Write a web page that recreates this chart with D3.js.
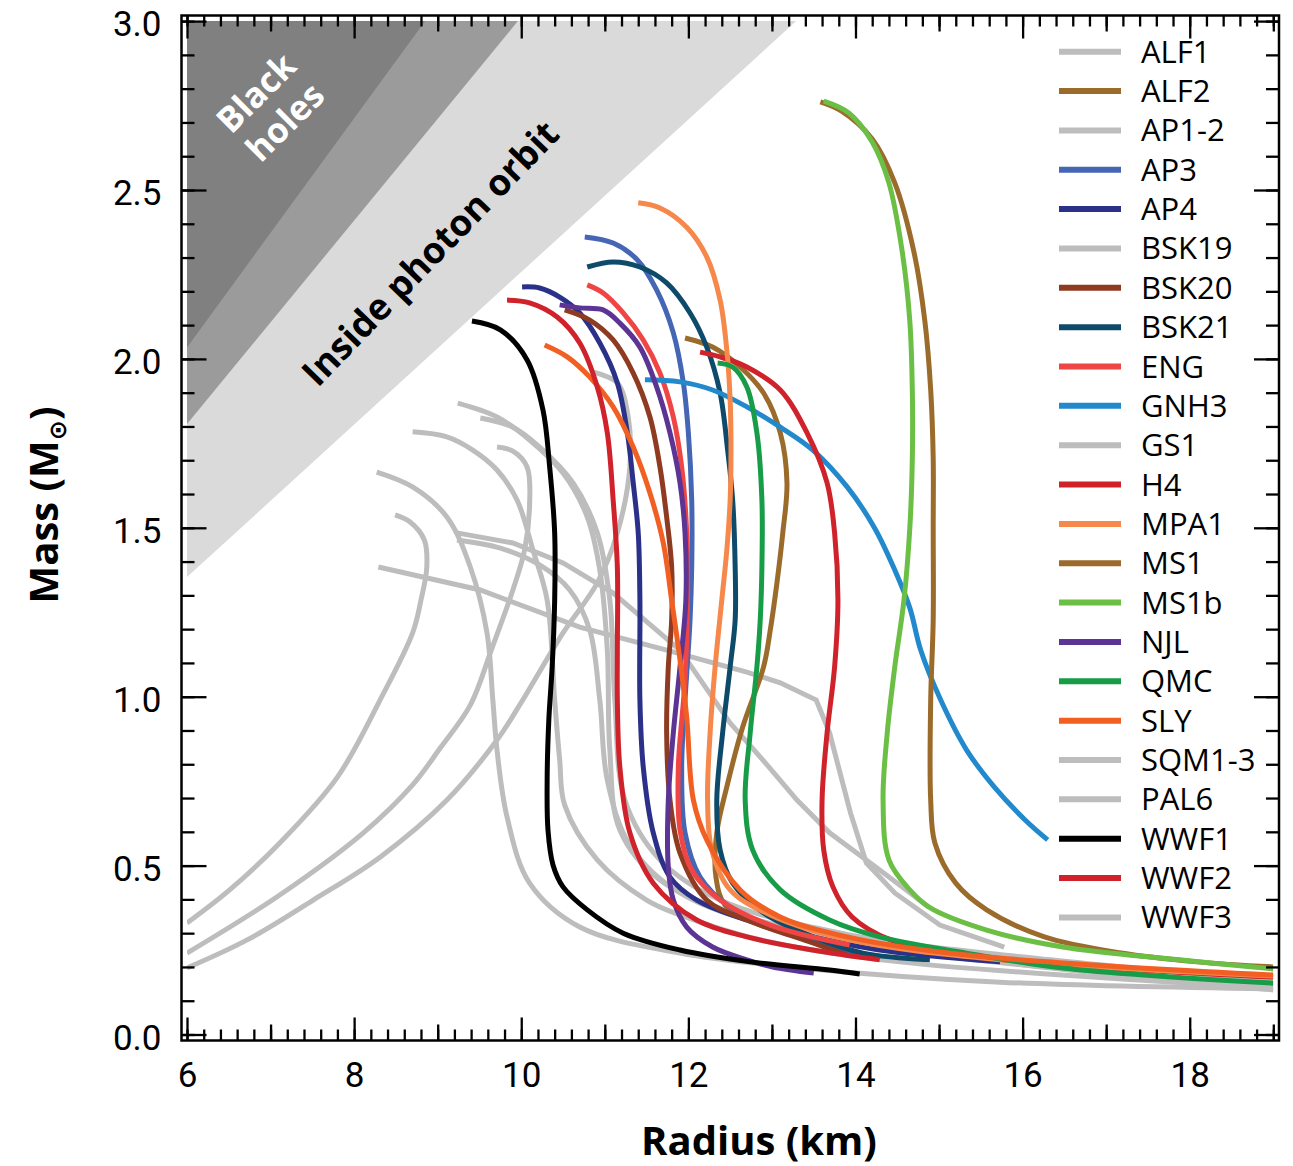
<!DOCTYPE html>
<html><head><meta charset="utf-8">
<script src="https://cdn.jsdelivr.net/npm/d3@7"></script>
<style>body{margin:0;background:#fff}</style>
</head><body>
<svg id="chart" width="1293" height="1166"></svg>
<script>
// ---------- data: [radius km, mass Msun] ----------
const ALF1 = [[8.29,1.384],[9.51,1.316],[10.70,1.206],[11.74,1.138],[12.70,1.073],[13.10,1.041],[13.53,0.990],[13.69,0.893],[13.94,0.656],[14.13,0.508],[14.47,0.419],[15.01,0.324],[15.78,0.259]];
const ALF2 = [[11.96,2.062],[12.29,2.035],[12.62,1.976],[12.90,1.899],[13.10,1.781],[13.18,1.633],[13.13,1.485],[13.06,1.337],[12.98,1.197],[12.90,1.088],[12.65,0.910],[12.46,0.733],[12.34,0.597],[12.33,0.466],[12.44,0.383],[12.86,0.324],[13.93,0.265]];
const AP1 = [[8.27,1.665],[8.70,1.621],[9.11,1.532],[9.39,1.384],[9.59,1.189],[9.66,0.990],[9.71,0.842],[9.83,0.644],[10.10,0.448],[10.70,0.318],[11.90,0.241],[13.34,0.197],[15.73,0.155],[19.0,0.135]];
const AP2 = [[8.70,1.784],[9.11,1.769],[9.42,1.730],[9.71,1.671],[9.95,1.582],[10.14,1.434],[10.31,1.286],[10.40,0.990],[10.46,0.813],[10.52,0.679],[10.91,0.517],[11.50,0.398],[11.90,0.354],[12.86,0.280],[14.53,0.215],[19.0,0.138]];
const AP3 = [[10.76,2.361],[11.10,2.343],[11.39,2.293],[11.62,2.204],[11.82,2.077],[11.94,1.929],[12.00,1.781],[12.04,1.582],[12.04,1.384],[12.02,1.227],[11.96,0.990],[11.92,0.792],[11.96,0.597],[12.14,0.466],[12.50,0.377],[13.10,0.309],[13.69,0.259],[14.29,0.229]];
const AP4 = [[10.01,2.213],[10.22,2.210],[10.46,2.183],[10.70,2.136],[10.94,2.047],[11.15,1.929],[11.27,1.781],[11.34,1.633],[11.40,1.485],[11.42,1.286],[11.42,0.990],[11.46,0.792],[11.58,0.597],[11.78,0.466],[12.10,0.398],[12.70,0.339],[13.49,0.289],[14.29,0.250],[15.73,0.215]];
const BSK19 = [[9.24,1.869],[9.71,1.828],[10.10,1.760],[10.50,1.662],[10.79,1.532],[10.94,1.375],[11.03,1.138],[11.06,0.842],[11.18,0.605],[11.66,0.457],[12.62,0.354],[14.53,0.250],[16.93,0.185],[19.0,0.147]];
const BSK20 = [[10.52,2.145],[10.82,2.115],[11.10,2.056],[11.34,1.958],[11.54,1.828],[11.66,1.680],[11.74,1.532],[11.80,1.384],[11.80,1.227],[11.76,1.088],[11.74,0.893],[11.78,0.694],[11.90,0.537],[12.22,0.398],[12.70,0.339],[13.49,0.271],[13.90,0.235]];
const BSK21 = [[10.79,2.272],[11.10,2.287],[11.42,2.272],[11.74,2.225],[12.02,2.136],[12.22,2.035],[12.38,1.899],[12.47,1.730],[12.53,1.582],[12.56,1.384],[12.56,1.227],[12.50,1.088],[12.41,0.893],[12.34,0.694],[12.38,0.546],[12.53,0.448],[12.90,0.360],[13.49,0.289],[14.09,0.241],[14.89,0.221]];
const ENG = [[10.79,2.219],[10.98,2.195],[11.22,2.136],[11.46,2.056],[11.66,1.958],[11.82,1.828],[11.92,1.680],[11.98,1.485],[11.99,1.286],[11.96,1.049],[11.88,0.792],[11.90,0.605],[12.04,0.487],[12.38,0.398],[12.98,0.324],[13.93,0.265]];
const GNH3 = [[11.48,1.938],[11.90,1.932],[12.29,1.908],[12.70,1.858],[13.10,1.798],[13.49,1.730],[13.90,1.621],[14.23,1.499],[14.47,1.375],[14.65,1.263],[14.78,1.138],[15.02,0.990],[15.33,0.842],[15.66,0.733],[16.03,0.635],[16.30,0.576]];
const GS1 = [[9.23,1.485],[9.90,1.455],[10.50,1.396],[11.10,1.307],[11.90,1.138],[12.50,0.922],[12.89,0.813],[13.30,0.694],[13.69,0.597],[14.29,0.487],[14.88,0.377]];
const H4 = [[12.14,2.020],[12.38,2.006],[12.70,1.976],[13.10,1.908],[13.42,1.781],[13.66,1.633],[13.75,1.485],[13.79,1.286],[13.75,1.088],[13.66,0.893],[13.60,0.694],[13.62,0.546],[13.73,0.437],[13.96,0.348],[14.42,0.280],[15.11,0.241],[16.48,0.206],[19.0,0.170]];
const MPA1 = [[11.40,2.462],[11.66,2.447],[11.98,2.390],[12.22,2.302],[12.38,2.174],[12.46,2.026],[12.50,1.878],[12.51,1.730],[12.50,1.582],[12.46,1.434],[12.40,1.286],[12.32,1.088],[12.26,0.893],[12.23,0.694],[12.28,0.546],[12.50,0.428],[12.98,0.354],[13.93,0.280],[15.73,0.221],[19.0,0.173]];
const MS1 = [[13.58,2.761],[13.83,2.734],[14.20,2.651],[14.47,2.521],[14.70,2.316],[14.83,2.112],[14.90,1.908],[14.93,1.704],[14.93,1.499],[14.93,1.227],[14.90,0.990],[14.90,0.694],[14.95,0.567],[15.20,0.448],[15.57,0.369],[16.26,0.289],[17.18,0.241],[18.09,0.215],[19.0,0.200]];
const MS1b = [[13.62,2.763],[13.92,2.728],[14.20,2.642],[14.40,2.521],[14.56,2.316],[14.65,2.112],[14.68,1.908],[14.68,1.704],[14.65,1.499],[14.58,1.286],[14.47,1.088],[14.38,0.893],[14.33,0.694],[14.40,0.517],[14.65,0.428],[14.88,0.377],[15.57,0.309],[16.48,0.259],[17.87,0.221],[19.0,0.194]];
const NJL = [[10.46,2.160],[10.70,2.151],[10.98,2.145],[11.18,2.106],[11.42,2.035],[11.62,1.917],[11.78,1.781],[11.90,1.633],[11.96,1.485],[11.97,1.286],[11.90,1.088],[11.82,0.893],[11.76,0.694],[11.76,0.496],[11.82,0.398],[11.98,0.318],[12.29,0.259],[12.70,0.221],[13.01,0.200],[13.50,0.182]];
const QMC = [[12.35,1.988],[12.53,1.976],[12.70,1.917],[12.82,1.781],[12.88,1.582],[12.88,1.384],[12.86,1.227],[12.82,1.088],[12.74,0.893],[12.68,0.694],[12.77,0.546],[13.10,0.428],[13.69,0.339],[14.29,0.289],[15.25,0.244],[16.48,0.197],[19.0,0.152]];
const SLY = [[10.28,2.041],[10.55,2.006],[10.82,1.946],[11.10,1.858],[11.34,1.739],[11.54,1.603],[11.70,1.455],[11.80,1.286],[11.90,1.109],[11.98,0.940],[12.06,0.694],[12.22,0.576],[12.62,0.428],[13.10,0.348],[13.90,0.289],[15.11,0.241],[16.48,0.212],[19.0,0.176]];
const SQM1 = [[8.49,1.538],[8.67,1.517],[8.84,1.464],[8.87,1.384],[8.80,1.286],[8.70,1.189],[8.31,0.990],[7.80,0.762],[7.11,0.567],[6.51,0.428],[6.0,0.330]];
const SQM2 = [[9.71,1.739],[9.90,1.727],[10.07,1.680],[10.10,1.568],[10.04,1.434],[9.90,1.316],[9.65,1.144],[9.39,0.975],[9.03,0.848],[8.70,0.739],[8.11,0.597],[7.11,0.413],[6.0,0.241]];
const SQM3 = [[10.86,1.961],[11.15,1.929],[11.28,1.828],[11.30,1.680],[11.15,1.485],[10.91,1.337],[10.50,1.189],[9.98,0.975],[9.71,0.872],[9.11,0.694],[8.31,0.525],[7.51,0.398],[6.72,0.280],[6.0,0.197]];
const PAL6 = [[9.23,1.464],[9.75,1.440],[10.22,1.390],[10.58,1.316],[10.82,1.197],[10.94,0.990],[11.03,0.753],[11.30,0.561],[11.90,0.419],[13.10,0.315],[15.73,0.215],[19.0,0.132]];
const WWF1 = [[9.41,2.112],[9.75,2.086],[10.07,1.997],[10.26,1.849],[10.34,1.680],[10.40,1.485],[10.40,1.286],[10.37,1.088],[10.33,0.931],[10.31,0.753],[10.32,0.605],[10.38,0.502],[10.50,0.437],[10.79,0.369],[11.22,0.300],[11.90,0.250],[12.74,0.215],[13.69,0.191],[14.05,0.179]];
const WWF2 = [[9.83,2.174],[10.10,2.166],[10.43,2.124],[10.70,2.047],[10.91,1.917],[11.03,1.781],[11.10,1.582],[11.15,1.384],[11.15,1.138],[11.15,0.990],[11.18,0.792],[11.30,0.597],[11.58,0.448],[12.10,0.339],[12.70,0.289],[13.49,0.250],[14.29,0.221]];
const WWF3 = [[9.51,1.825],[9.90,1.798],[10.22,1.739],[10.62,1.633],[10.91,1.485],[11.06,1.286],[11.12,0.990],[11.24,0.694],[11.66,0.517],[12.38,0.398],[13.93,0.295],[16.33,0.221],[19.0,0.160]];

// legend order
const seriesNames = ["ALF1","ALF2","AP1-2","AP3","AP4","BSK19","BSK20","BSK21","ENG","GNH3","GS1","H4","MPA1","MS1","MS1b","NJL","QMC","SLY","SQM1-3","PAL6","WWF1","WWF2","WWF3"];
const seriesCurves = [[ALF1],[ALF2],[AP1,AP2],[AP3],[AP4],[BSK19],[BSK20],[BSK21],[ENG],[GNH3],[GS1],[H4],[MPA1],[MS1],[MS1b],[NJL],[QMC],[SLY],[SQM1,SQM2,SQM3],[PAL6],[WWF1],[WWF2],[WWF3]];
const seriesColors = ["#bdbdbd","#9b6b2c","#bdbdbd","#4565b5","#2b3188","#bdbdbd","#8f3b22","#0e4a6a","#ef4545","#2189cc","#bdbdbd","#d0222b","#f5884a","#9b6b2c","#6bbf45","#5b3494","#179c47","#f15f22","#bdbdbd","#bdbdbd","#000000","#d0222b","#bdbdbd"];
const kinkedSeries = ["ALF1","GS1"];

// shaded regions (R, M)
const blackHoleRegion = [[6,3.0],[6,2.034],[8.85,3.0]];
const buchdahlRegion  = [[6,3.0],[6,1.807],[9.96,3.0]];
const photonRegion    = [[6,3.0],[6,1.354],[13.29,3.0]];

const xMajorLabels = [6,8,10,12,14,16,18];
const yMajorLabels = [0,0.5,1.0,1.5,2.0,2.5,3.0];

// ---------- drawing ----------
const svg = d3.select("#chart");
const FONT = "'Open Sans', 'Noto Sans', sans-serif";
const TICKFONT = "Roboto, 'Open Sans', sans-serif";
const x = d3.scaleLinear().domain([6,19]).range([187,1273.3]);
const y = d3.scaleLinear().domain([0,3]).range([1034.5,21.1]);
const frame = {l:181.5, r:1279, t:15.5, b:1040.5};

svg.append("defs").append("clipPath").attr("id","clip")
  .append("rect").attr("x",x(6)).attr("y",y(3)).attr("width",x(19)-x(6)).attr("height",y(0)-y(3));

const regionLine = d3.line().x(d=>x(d[0])).y(d=>y(d[1]));
const regions = svg.append("g").attr("clip-path","url(#clip)");
regions.append("path").attr("d",regionLine(photonRegion)+"Z").attr("fill","#dadada");
regions.append("path").attr("d",regionLine(buchdahlRegion)+"Z").attr("fill","#9b9b9b");
regions.append("path").attr("d",regionLine(blackHoleRegion)+"Z").attr("fill","#808080");

// region labels
const bh = svg.append("g").attr("transform","translate(270,107) rotate(-45)")
  .attr("font-family",FONT).attr("font-weight",700).attr("font-size",35).attr("fill","#fff").attr("text-anchor","middle");
bh.append("text").attr("y",-20).attr("dy","0.36em").text("Black");
bh.append("text").attr("y",21).attr("dy","0.36em").text("holes");
svg.append("text").attr("transform","translate(430,253) rotate(-46)")
  .attr("font-family",FONT).attr("font-weight",700).attr("font-size",36.5).attr("fill","#000")
  .attr("text-anchor","middle").attr("dy","0.36em").text("Inside photon orbit");

// curves
const curveSmooth = d3.line().x(d=>x(d[0])).y(d=>y(d[1])).curve(d3.curveCatmullRom.alpha(0.5));
const curveStraight = d3.line().x(d=>x(d[0])).y(d=>y(d[1]));
const curvesG = svg.append("g").attr("clip-path","url(#clip)").attr("fill","none").attr("stroke-width",5);
const order = d3.range(seriesNames.length).sort((a,b)=>{
  const ga = seriesColors[a]==="#bdbdbd"?0:1, gb = seriesColors[b]==="#bdbdbd"?0:1;
  return ga-gb || a-b;
});
order.forEach(i=>{
  seriesCurves[i].forEach(c=>{
    const gen = kinkedSeries.includes(seriesNames[i]) ? curveStraight : curveSmooth;
    curvesG.append("path").attr("d",gen(c)).attr("stroke",seriesColors[i]);
  });
});

// frame
svg.append("rect").attr("x",frame.l).attr("y",frame.t).attr("width",frame.r-frame.l).attr("height",frame.b-frame.t)
  .attr("fill","none").attr("stroke","#000").attr("stroke-width",2.5);

// ticks
const xMinor = d3.range(0,66).map(i=>6+i*0.2);
const xOdd = [7,9,11,13,15,17,19];
const yMinor = d3.range(0,31).map(i=>i*0.1);
function tickAxis(axis, vals, size, tr){
  const g = svg.append("g").attr("transform",tr).call(axis.tickValues(vals).tickSize(size).tickFormat(""));
  g.select(".domain").remove();
  g.selectAll("line").attr("stroke","#000").attr("stroke-width",2.3);
}
tickAxis(d3.axisTop(x), xMinor, 11, `translate(0,${frame.b})`);
tickAxis(d3.axisTop(x), xOdd, 16, `translate(0,${frame.b})`);
tickAxis(d3.axisTop(x), xMajorLabels, 23, `translate(0,${frame.b})`);
tickAxis(d3.axisBottom(x), xMinor, 11, `translate(0,${frame.t})`);
tickAxis(d3.axisBottom(x), xOdd, 16, `translate(0,${frame.t})`);
tickAxis(d3.axisBottom(x), xMajorLabels, 23, `translate(0,${frame.t})`);
tickAxis(d3.axisRight(y), yMinor, 13, `translate(${frame.l},0)`);
tickAxis(d3.axisRight(y), yMajorLabels, 25, `translate(${frame.l},0)`);
tickAxis(d3.axisLeft(y), yMinor, 13, `translate(${frame.r},0)`);
tickAxis(d3.axisLeft(y), yMajorLabels, 25, `translate(${frame.r},0)`);

// tick labels
const xl = svg.append("g").attr("transform",`translate(0,${frame.b})`)
  .call(d3.axisBottom(x).tickValues(xMajorLabels).tickSize(0).tickPadding(22).tickFormat(d3.format("d")));
xl.select(".domain").remove();
xl.selectAll("text").attr("font-family",TICKFONT).attr("font-size",35).attr("fill","#000");
const yl = svg.append("g").attr("transform",`translate(${frame.l},0)`)
  .call(d3.axisLeft(y).tickValues(yMajorLabels).tickSize(0).tickPadding(20).tickFormat(d3.format(".1f")));
yl.select(".domain").remove();
yl.selectAll("text").attr("font-family",TICKFONT).attr("font-size",35).attr("fill","#000").attr("dy","0.42em");

// axis titles
svg.append("text").attr("x",759).attr("y",1155).attr("text-anchor","middle")
  .attr("font-family",FONT).attr("font-weight",700).attr("font-size",40).text("Radius (km)");
const yt = svg.append("text").attr("transform","translate(58,505) rotate(-90)").attr("text-anchor","middle")
  .attr("font-family",FONT).attr("font-weight",700).attr("font-size",40);
yt.append("tspan").text("Mass (M");
yt.append("tspan").attr("font-size",24).attr("dy",8).attr("font-family","'DejaVu Sans', sans-serif").text("\u2299");
yt.append("tspan").attr("dy",-8).text(")");

// legend
const lg = svg.append("g");
seriesNames.forEach((n,i)=>{
  const yy = 51.7 + i*39.35;
  lg.append("line").attr("x1",1059).attr("x2",1121).attr("y1",yy).attr("y2",yy)
    .attr("stroke",seriesColors[i]).attr("stroke-width",6);
  lg.append("text").attr("x",1141).attr("y",yy+11).attr("font-family",FONT).attr("font-size",31).attr("fill","#000").text(n);
});
</script>
</body></html>
